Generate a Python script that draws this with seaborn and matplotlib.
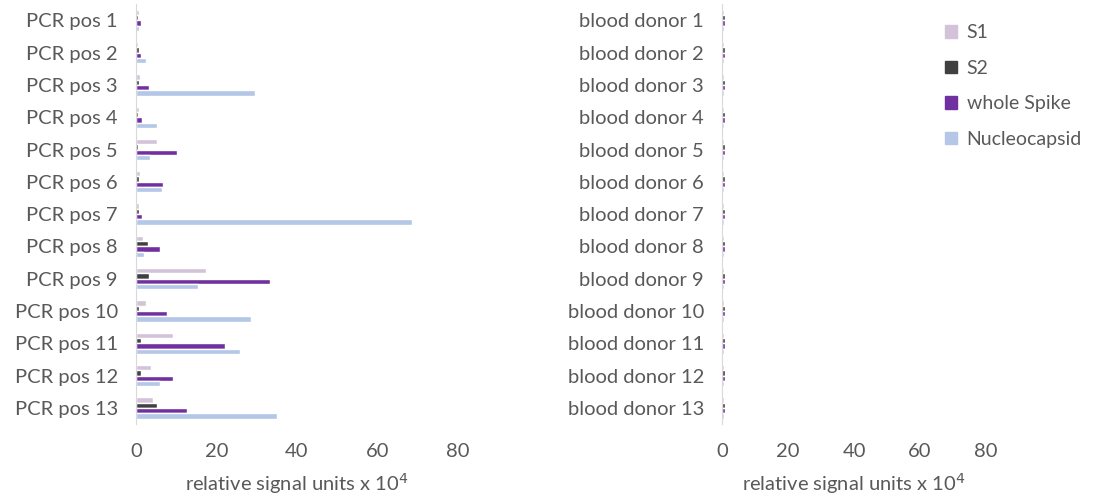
import pandas as pd
import numpy as np
import matplotlib.pyplot as plt
import seaborn as sns

sns.set_style("white")
plt.rcParams['font.family'] = ['Lato', 'DejaVu Sans']

# --- data ---
antigens = ['S1', 'S2', 'whole Spike', 'Nucleocapsid']
colors = ['#d3c3d9', '#404040', '#7030a0', '#b4c7e7']

pcr_labels = [f"PCR pos {i}" for i in range(1, 14)]
pcr_s1 = [0.8, 0.5, 1.0, 0.8, 5.2, 1.0, 0.8, 1.8, 17.3, 2.6, 9.1, 3.8, 4.3]
pcr_s2 = [0.5, 0.8, 0.8, 0.5, 0.5, 0.7, 0.7, 2.9, 3.3, 0.7, 1.2, 1.2, 5.1]
pcr_spike = [1.2, 1.2, 3.3, 1.6, 10.2, 6.7, 1.6, 6.0, 33.3, 7.8, 22.2, 9.3, 12.7]
pcr_nc = [0.8, 2.4, 29.5, 5.2, 3.6, 6.5, 68.7, 2.1, 15.5, 28.7, 25.9, 5.9, 35.1]

donor_labels = [f"blood donor {i}" for i in range(1, 14)]
donor_s1 = [0.6, 0.6, 0.6, 0.6, 0.6, 0.6, 0.6, 0.6, 0.6, 0.6, 0.6, 0.6, 0.6]
donor_s2 = [0.9, 0.9, 1.0, 0.9, 0.9, 1.0, 0.9, 0.9, 0.9, 1.0, 1.0, 1.0, 0.9]
donor_spike = [0.8, 0.8, 0.8, 0.8, 0.8, 0.8, 0.8, 0.8, 0.8, 0.8, 0.8, 0.8, 0.8]
donor_nc = [0.5, 0.5, 0.5, 0.5, 0.5, 0.5, 0.5, 0.5, 0.5, 0.5, 0.5, 0.5, 0.5]


def long_df(labels, series):
    rows = []
    for ant, vals in zip(antigens, series):
        for lab, v in zip(labels, vals):
            rows.append({"sample": lab, "antigen": ant, "value": v})
    return pd.DataFrame(rows)


df_pcr = long_df(pcr_labels, [pcr_s1, pcr_s2, pcr_spike, pcr_nc])
df_donor = long_df(donor_labels, [donor_s1, donor_s2, donor_spike, donor_nc])

fig = plt.figure(figsize=(10.94, 4.98), dpi=100)
ax1 = fig.add_axes([0.1243, 0.1486, 0.2943, 0.843])
ax2 = fig.add_axes([0.66, 0.1486, 0.2413, 0.843])

pal = dict(zip(antigens, colors))
text_col = '#595959'
fs = 14.5

for ax, df in [(ax1, df_pcr), (ax2, df_donor)]:
    sns.barplot(data=df, x="value", y="sample", hue="antigen", hue_order=antigens,
                palette=pal, orient="h", width=0.66, saturation=1, ax=ax,
                legend=False, errorbar=None)
    ax.set_xlim(0, 80)
    ax.set_xticks([0, 20, 40, 60, 80])
    ax.set_ylim(12.5, -0.5)
    ax.set_ylabel("")
    ax.set_xlabel("relative signal units x 10$^4$", fontsize=fs, color=text_col, labelpad=8)
    ax.tick_params(axis='y', labelsize=fs, colors=text_col, length=0, pad=13)
    ax.tick_params(axis='x', labelsize=fs, colors=text_col, length=0, pad=14)
    for s in ['top', 'right', 'bottom']:
        ax.spines[s].set_visible(False)
    ax.spines['left'].set_color('#d9d9d9')
    ax.grid(False)

handles = [plt.Rectangle((0, 0), 1, 1, color=c) for c in colors]
fig.legend(handles, antigens, loc='upper left', bbox_to_anchor=(0.848, 0.986),
           frameon=False, fontsize=14, handlelength=0.6, handleheight=0.6,
           handletextpad=0.5, labelspacing=0.95, labelcolor=text_col)

fig.savefig("out.png", dpi=100)
